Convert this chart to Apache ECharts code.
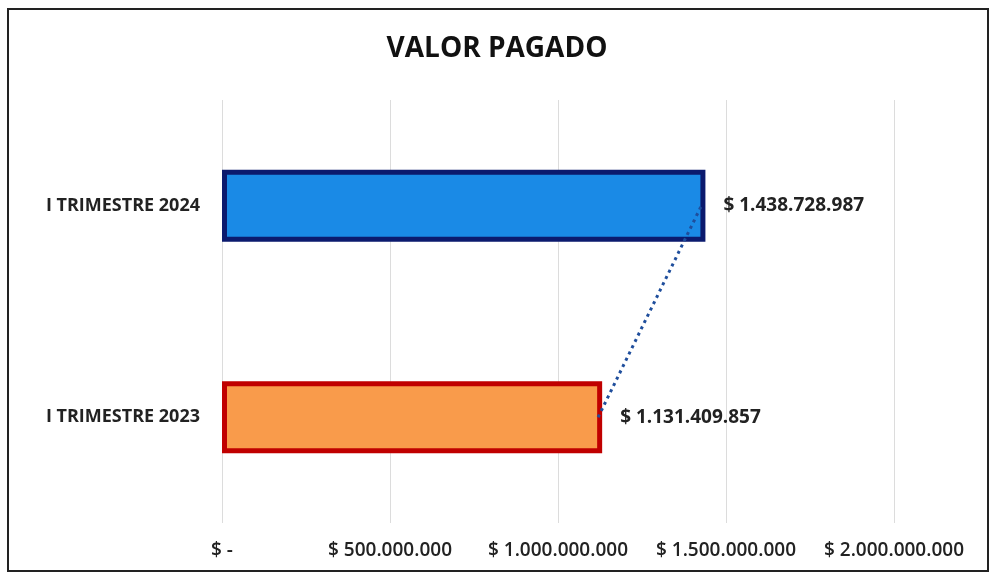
<!DOCTYPE html>
<html>
<head>
<meta charset="utf-8">
<style>
  html, body { margin: 0; padding: 0; background: #fff; }
  #main { width: 994px; height: 577px; }
</style>
<script src="https://cdn.jsdelivr.net/npm/echarts@6/dist/echarts.min.js"></script>
</head>
<body>
<div id="main"></div>
<script>
var categories = ['I TRIMESTRE 2023', 'I TRIMESTRE 2024'];
var values = [1131409857, 1438728987];
var fillColors = ['#f99b4b', '#1a8ae6'];
var borderColors = ['#c00000', '#0b1a6e'];
var axisMax = 2000000000;
var axisStep = 500000000;

// formato pesos con puntos de miles
function pesos(v) {
  if (v === 0) return '$ -';
  return '$ ' + String(Math.round(v)).replace(/\B(?=(\d{3})+(?!\d))/g, '.');
}

var chartDom = document.getElementById('main');
var myChart = echarts.init(chartDom);
var option;

var barData = values.map(function (v, i) {
  return {
    value: v,
    itemStyle: { color: fillColors[i], borderColor: borderColors[i], borderWidth: 5 }
  };
});

option = {
  animation: false,
  backgroundColor: '#fff',
  title: {
    text: 'VALOR PAGADO',
    left: 'center',
    top: 30,
    textStyle: { fontFamily: 'Open Sans', fontWeight: 'bold', fontSize: 28, color: '#111' }
  },
  grid: { left: 222, right: 100, top: 100, bottom: 54 },
  xAxis: {
    type: 'value',
    min: 0,
    max: axisMax,
    interval: axisStep,
    axisLine: { show: false },
    axisTick: { show: false },
    splitLine: { lineStyle: { color: '#dcdcdc', width: 1 } },
    axisLabel: {
      formatter: pesos,
      margin: 18,
      fontFamily: 'Open Sans',
      fontWeight: 600,
      fontSize: 19,
      color: '#222'
    }
  },
  yAxis: {
    type: 'category',
    data: categories,
    axisLine: { show: false },
    axisTick: { show: false },
    axisLabel: {
      margin: 22,
      fontFamily: 'Open Sans',
      fontWeight: 'bold',
      fontSize: 18,
      color: '#222'
    }
  },
  series: [
    {
      type: 'bar',
      data: barData,
      barWidth: 72,
      label: {
        show: true,
        position: 'right',
        distance: 18,
        formatter: function (p) { return pesos(p.value); },
        fontFamily: 'Open Sans',
        fontWeight: 'bold',
        fontSize: 19,
        color: '#222'
      },
      z: 2
    },
    {
      type: 'line',
      data: values.map(function (v) { return v - 12000000; }),
      symbol: 'none',
      lineStyle: { color: '#1f4e9c', width: 3, type: [3, 4] },
      z: 3
    }
  ],
  graphic: [
    {
      type: 'rect',
      shape: { x: 8, y: 9, width: 980, height: 562 },
      style: { fill: 'none', stroke: '#222', lineWidth: 2 },
      silent: true
    }
  ]
};

option && myChart.setOption(option);
</script>
</body>
</html>
